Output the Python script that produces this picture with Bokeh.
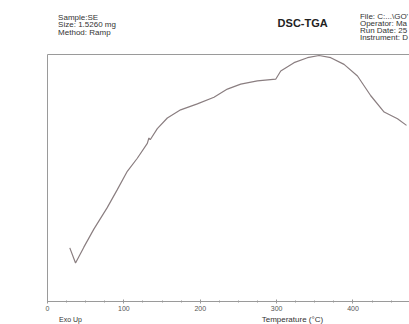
from bokeh.plotting import figure
from bokeh.layouts import column
from bokeh.models import Range1d, FixedTicker, LinearAxis
from bokeh.core.properties import value
from bokeh.embed import file_html
from bokeh.resources import INLINE

temperature = [29.2, 36.7, 47.6, 60.7, 78.2, 91.4, 104.5, 117.6, 130.7, 132.8, 134.5, 143.8,
               156.9, 174.3, 196.2, 218.0, 235.5, 253.0, 274.8, 298.8, 305.4, 322.8,
               340.4, 355.6, 370.9, 388.3, 405.9, 423.3, 440.8, 458.3, 470.1]
heat_flow = [2.17, 1.56, 2.20, 2.93, 3.80, 4.53, 5.27, 5.80, 6.40, 6.62, 6.55, 7.00,
             7.43, 7.76, 8.00, 8.27, 8.60, 8.80, 8.93, 9.00, 9.33, 9.67,
             9.87, 9.96, 9.87, 9.60, 9.13, 8.33, 7.67, 7.40, 7.13]
x_ticks = [0, 100, 200, 300, 400]
x_minor = [25, 50, 75, 125, 150, 175, 225, 250, 275, 325, 350, 375, 425, 450]
header_left = ["Sample:SE", "Size:  1.5260 mg", "Method: Ramp"]
header_right = ["File: C:...\\GO'", "Operator: Ma", "Run Date: 25", "Instrument: D"]
title_text = "DSC-TGA"
footer_left = "Exo Up"
x_label = "Temperature (°C)"

W = 409
FONT = value("Liberation Sans")
TXT = "#333333"
AX = "#9a9a9a"

# ---- header strip (text only) ----
HH = 54
hdr = figure(width=W, height=HH, output_backend="svg", toolbar_location=None,
             x_range=Range1d(0, W), y_range=Range1d(HH, 0),
             min_border=0, min_border_left=0, min_border_right=0,
             min_border_top=0, min_border_bottom=0)
hdr.axis.visible = False
hdr.grid.visible = False
hdr.outline_line_color = None
hdr.text(x=[12] * len(header_left), y=[12 + 7.5 * i for i in range(len(header_left))],
         text=header_left, text_font=FONT, text_font_size="8px", text_color=TXT,
         text_baseline="top")
hdr.text(x=[353] * len(header_right), y=[11 + 7.3 * i for i in range(len(header_right))],
         text=header_right, text_font=FONT, text_font_size="8px", text_color=TXT,
         text_baseline="top")
hdr.text(x=[260], y=[16], text=[title_text], text_font=FONT, text_font_size="11px",
         text_font_style="bold", text_color="#222222", text_baseline="top")

# ---- main plot ----
XMAX = 474.0
p = figure(width=W, height=259, output_backend="svg", toolbar_location=None,
           x_range=Range1d(0, XMAX), y_range=Range1d(0, 10),
           min_border_left=47, min_border_right=0, min_border_top=0, min_border_bottom=10)
p.outline_line_color = None
p.grid.visible = False

xa = p.xaxis[0]
ya = p.yaxis[0]

ya.ticker = FixedTicker(ticks=[])
ya.axis_line_color = AX
ya.major_tick_line_color = None
ya.minor_tick_line_color = None
ya.major_label_standoff = 0

top = LinearAxis(ticker=FixedTicker(ticks=[]), axis_line_color=AX,
                 major_tick_line_color=None, minor_tick_line_color=None,
                 major_label_standoff=0)
p.add_layout(top, "above")

xa.ticker = FixedTicker(ticks=x_ticks, minor_ticks=x_minor)
xa.axis_line_color = AX
xa.major_tick_line_color = AX
xa.minor_tick_line_color = AX
xa.major_tick_in = 2
xa.major_tick_out = 2
xa.minor_tick_in = 1
xa.minor_tick_out = 1
xa.major_label_text_font = "Liberation Sans"
xa.major_label_text_font_size = "7px"
xa.major_label_text_color = "#555555"
xa.major_label_standoff = 2

p.line(temperature, heat_flow, line_color="#8a7e80", line_width=1.2)

# ---- footer strip (text only) ----
FH = 11
ftr = figure(width=W, height=FH, output_backend="svg", toolbar_location=None,
             x_range=Range1d(0, W), y_range=Range1d(FH, 0),
             min_border=0, min_border_left=0, min_border_right=0,
             min_border_top=0, min_border_bottom=0)
ftr.axis.visible = False
ftr.grid.visible = False
ftr.outline_line_color = None
ftr.text(x=[13], y=[1], text=[footer_left], text_font=FONT, text_font_size="7px",
         text_color=TXT, text_baseline="top")
ftr.text(x=[242], y=[0.5], text=[x_label], text_font=FONT, text_font_size="8px",
         text_color=TXT, text_baseline="top")

layout = column(hdr, p, ftr, spacing=0)
open("out.html", "w").write(file_html(layout, INLINE))
